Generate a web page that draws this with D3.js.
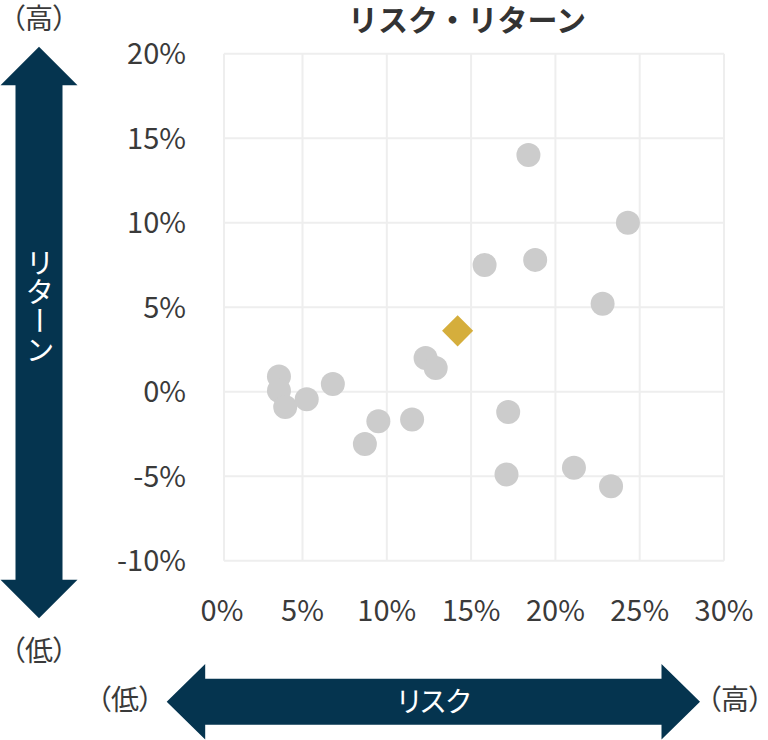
<!DOCTYPE html>
<html><head><meta charset="utf-8">
<script src="https://cdn.jsdelivr.net/npm/d3@7"></script>
<style>
html,body{margin:0;padding:0;background:#fff;}
svg text{font-family:"Noto Sans CJK JP","Noto Sans",sans-serif;font-feature-settings:"palt";}
svg text.title{font-feature-settings:normal;}
</style></head>
<body><svg id="c" width="768" height="740"></svg>
<script>
// ---- data ----
const title = "リスク・リターン";
const risk   = [18.4, 24.3, 15.8, 18.8, 22.8, 12.3, 12.9, 3.5, 3.5, 3.9, 5.25, 6.8, 9.5, 8.7, 11.5, 17.2, 17.1, 21.1, 23.3];
const ret    = [14.0, 10.0, 7.5, 7.8, 5.2, 2.0, 1.4, 0.9, 0.05, -0.9, -0.45, 0.45, -1.75, -3.1, -1.65, -1.2, -4.9, -4.5, -5.6];
const highlightRisk = [14.2];
const highlightRet  = [3.6];
const xTicks = [0, 5, 10, 15, 20, 25, 30];
const yTicks = [-10, -5, 0, 5, 10, 15, 20];
const yArrowLabel = "リターン";
const xArrowLabel = "リスク";
const highLabel = "（高）";
const lowLabel = "（低）";

// ---- layout ----
const svg = d3.select("#c");
const x = d3.scaleLinear().domain([0, 5, 30]).range([224, 302.5, 724]);
const y = d3.scaleLinear().domain([-10, 20]).range([560.7, 53.7]);
const textColor = "#3a3a3a";
const gridColor = "#eeeeee";
const navy = "#05344f";

// grid
const g = svg.append("g");
g.selectAll("line.v").data(xTicks).join("line")
  .attr("x1", d => x(d)).attr("x2", d => x(d))
  .attr("y1", y(-10)).attr("y2", y(20))
  .attr("stroke", gridColor).attr("stroke-width", 2);
g.selectAll("line.h").data(yTicks).join("line")
  .attr("y1", d => y(d)).attr("y2", d => y(d))
  .attr("x1", x(0)).attr("x2", x(30))
  .attr("stroke", gridColor).attr("stroke-width", 2);

// tick labels
svg.append("g").selectAll("text").data(yTicks).join("text")
  .attr("x", 186).attr("y", d => y(d)).attr("dy", "0.36em")
  .attr("text-anchor", "end").attr("font-size", 29).attr("fill", textColor)
  .text(d => d + "%");
svg.append("g").selectAll("text").data(xTicks).join("text")
  .attr("x", d => x(d) - (d === 0 ? 2 : 0)).attr("y", 611).attr("dy", "0.36em")
  .attr("text-anchor", "middle").attr("font-size", 29).attr("fill", textColor)
  .text(d => d + "%");

// points
const pts = risk.map((r, i) => ({r, v: ret[i]}));
svg.append("g").selectAll("circle").data(pts).join("circle")
  .attr("cx", d => x(d.r)).attr("cy", d => y(d.v)).attr("r", 12)
  .attr("fill", "#cccccc");
const hl = highlightRisk.map((r, i) => ({r, v: highlightRet[i]}));
svg.append("g").selectAll("path").data(hl).join("path")
  .attr("d", d3.symbol().type(d3.symbolSquare).size(484))
  .attr("transform", d => `translate(${x(d.r)},${y(d.v)}) rotate(45)`)
  .attr("fill", "#d5ae3c");

// title
svg.append("text").attr("class", "title").attr("x", 467).attr("y", 20).attr("dy", "0.36em")
  .attr("text-anchor", "middle").attr("font-size", 30).attr("font-weight", "bold")
  .attr("fill", "#333").text(title);

// double arrows
function dblArrowH(x1, x2, cy, sh, hh, hl) {
  return `M${x1},${cy} L${x1+hl},${cy-hh} L${x1+hl},${cy-sh} L${x2-hl},${cy-sh} L${x2-hl},${cy-hh} L${x2},${cy} L${x2-hl},${cy+hh} L${x2-hl},${cy+sh} L${x1+hl},${cy+sh} L${x1+hl},${cy+hh} Z`;
}
function dblArrowV(cx, y1, y2, sh, hh, hl) {
  return `M${cx},${y1} L${cx+hh},${y1+hl} L${cx+sh},${y1+hl} L${cx+sh},${y2-hl} L${cx+hh},${y2-hl} L${cx},${y2} L${cx-hh},${y2-hl} L${cx-sh},${y2-hl} L${cx-sh},${y1+hl} L${cx-hh},${y1+hl} Z`;
}
svg.append("path").attr("d", dblArrowV(39, 46.7, 618.3, 23.5, 38.5, 38.5)).attr("fill", navy);
svg.append("path").attr("d", dblArrowH(166.7, 700, 701.7, 23, 37.7, 38.5)).attr("fill", navy);

// arrow labels
svg.append("text").attr("x", 40).attr("y", 306)
  .attr("style", "writing-mode:vertical-rl;")
  .attr("text-anchor", "middle").attr("font-size", 29).attr("fill", "#fff")
  .text(yArrowLabel);
svg.append("text").attr("x", 434).attr("y", 702).attr("dy", "0.36em")
  .attr("text-anchor", "middle").attr("font-size", 28).attr("fill", "#fff")
  .text(xArrowLabel);

const endLabels = [
  {t: highLabel, x: 39, y: 19},
  {t: lowLabel, x: 39, y: 651},
  {t: lowLabel, x: 125, y: 700},
  {t: highLabel, x: 735, y: 700}
];
svg.append("g").selectAll("text").data(endLabels).join("text")
  .attr("x", d => d.x).attr("y", d => d.y).attr("dy", "0.36em")
  .attr("text-anchor", "middle").attr("font-size", 28).attr("fill", textColor)
  .text(d => d.t);
</script></body></html>
